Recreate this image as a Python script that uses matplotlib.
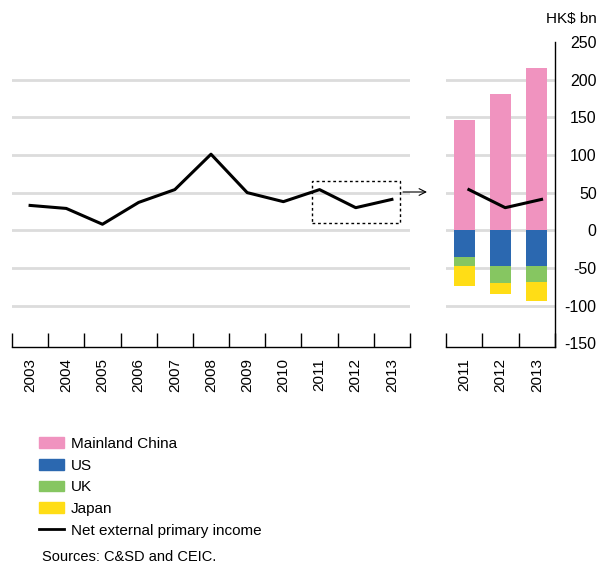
import numpy as np
import matplotlib.pyplot as plt
from matplotlib.patches import Rectangle, Patch
from matplotlib.lines import Line2D

plt.rcParams["font.family"] = ["Liberation Sans", "DejaVu Sans"]

# data (HK$ bn)
years = ["2003", "2004", "2005", "2006", "2007", "2008", "2009", "2010", "2011", "2012", "2013"]
net_income = [33, 29, 8, 37, 54, 101, 50, 38, 54, 30, 41]

bar_years = ["2011", "2012", "2013"]
china = [146, 181, 215]
us = [-36, -47, -48]
uk = [-12, -23, -21]
japan = [-26, -14, -25]
bar_net = [54, 30, 41]

PINK = "#f093bf"
BLUE = "#2b68b0"
GREEN = "#86c661"
YELLOW = "#ffdd16"
GRID = "#dcdcdc"
FS = 10.5

fig = plt.figure(figsize=(5.99, 5.65), dpi=100)
ax1 = fig.add_axes([12 / 599, 1 - 347 / 565, 398 / 599, 305 / 565])
ax2 = fig.add_axes([446 / 599, 1 - 347 / 565, 109 / 599, 305 / 565])

ylim = (-155, 250)


def style_axis(ax, labels):
    n = len(labels)
    ax.set_xlim(-0.5, n - 0.5)
    ax.set_ylim(*ylim)
    for s in ["top", "left", "right"]:
        ax.spines[s].set_visible(False)
    ax.spines["bottom"].set_linewidth(1.0)
    ax.set_xticks(range(n))
    ax.set_xticklabels(labels, rotation=90, fontsize=FS + 0.5)
    ax.tick_params(axis="x", which="major", length=0, pad=8)
    ax.set_xticks(np.arange(-0.5, n, 1.0), minor=True)
    ax.tick_params(axis="x", which="minor", direction="in", length=10, width=1.0)
    for v in [-100, -50, 0, 50, 100, 150, 200]:
        ax.axhline(v, color=GRID, lw=2, zorder=0)


# left panel: long history
style_axis(ax1, years)
x = np.arange(len(years))
ax1.plot(x, net_income, color="black", lw=2.2, zorder=3)
ax1.set_yticks([])
ax1.add_patch(Rectangle((7.8, 9), 2.42, 57, fill=False, ls=(0, (2, 2)),
                        lw=1.0, color="black", zorder=4))
ax1.annotate("", xy=(427 / 599, 1 - 192 / 565), xytext=(403 / 599, 1 - 192 / 565),
             xycoords="figure fraction", textcoords="figure fraction",
             arrowprops=dict(arrowstyle="->", lw=0.8, color="black",
                             shrinkA=0, shrinkB=0, mutation_scale=12))

# right panel: breakdown by counterpart
style_axis(ax2, bar_years)
ax2.spines["right"].set_visible(True)
ax2.spines["right"].set_linewidth(1.0)
xb = np.arange(len(bar_years))
w = 0.57
ax2.bar(xb, china, w, color=PINK, zorder=2)
ax2.bar(xb, us, w, color=BLUE, zorder=2)
us_uk = np.array(us) + np.array(uk)
ax2.bar(xb, uk, w, bottom=us, color=GREEN, zorder=2)
ax2.bar(xb, japan, w, bottom=us_uk, color=YELLOW, zorder=2)
ax2.plot(xb + 0.13, bar_net, color="black", lw=2.2, zorder=3)
ax2.yaxis.tick_right()
ax2.set_yticks(range(-150, 251, 50))
ax2.set_yticklabels([str(v) for v in range(-150, 251, 50)], fontsize=FS + 1, ha="right")
ax2.tick_params(axis="y", length=0, pad=30)

fig.text(597 / 599, 1 - 19 / 565, "HK$ bn", ha="right", va="center", fontsize=FS + 0.5)

# legend
handles = [Patch(color=PINK), Patch(color=BLUE), Patch(color=GREEN), Patch(color=YELLOW),
           Line2D([], [], color="black", lw=2.0)]
names = ["Mainland China", "US", "UK", "Japan", "Net external primary income"]
fig.legend(handles, names, loc="upper left", bbox_to_anchor=(33 / 599, 1 - 431 / 565),
           frameon=False, fontsize=FS + 0.5, handlelength=1.6, handleheight=0.7,
           labelspacing=0.5, handletextpad=0.5, borderaxespad=0)

fig.text(42 / 599, 1 - 557 / 565, "Sources: C&SD and CEIC.", ha="left", va="center", fontsize=FS)

plt.savefig("out.png", dpi=100)
